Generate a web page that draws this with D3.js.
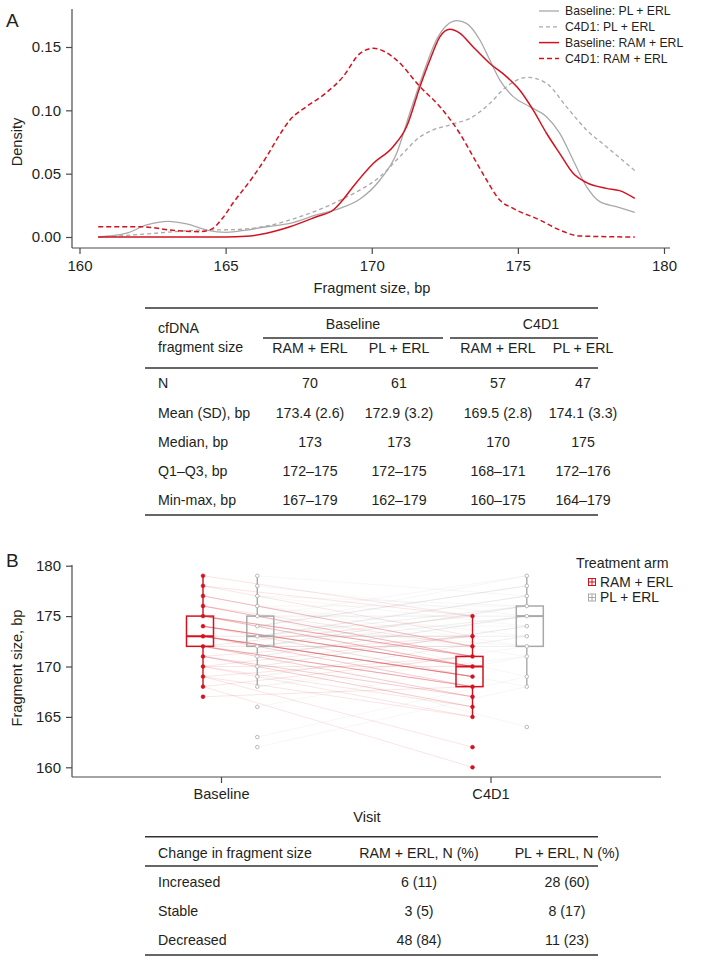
<!DOCTYPE html>
<html><head><meta charset="utf-8">
<script src="https://cdn.jsdelivr.net/npm/d3@7"></script>
<style>body{margin:0;background:#fff}text{font-family:"Liberation Sans",Arial,Helvetica,sans-serif;fill:#231f20}</style>
</head><body><svg id="c" width="703" height="961"></svg>
<script>
// ---------- Panel A data: density curves [fragment size, density]
const baselinePL = [[160.64,0],[161.61,0.003],[162.3,0.0095],[163.04,0.0124],[163.67,0.0103],[164.35,0.0055],[165.03,0.0037],[165.72,0.0055],[166.4,0.0081],[167.2,0.0108],[168.11,0.0174],[168.91,0.0226],[169.6,0.030],[170.28,0.045],[170.85,0.066],[171.3,0.0977],[171.76,0.129],[172.21,0.1555],[172.56,0.167],[172.92,0.1708],[173.24,0.1687],[173.7,0.1555],[174.04,0.1397],[174.38,0.124],[174.84,0.1108],[175.41,0.1029],[175.98,0.095],[176.43,0.082],[176.89,0.0608],[177.35,0.0397],[177.8,0.0279],[178.37,0.024],[179,0.0195]];
const c4d1PL = [[160.64,0],[161.84,0.0016],[162.98,0.0037],[164.12,0.0055],[165.26,0.0058],[166.4,0.0087],[167.54,0.016],[168.45,0.024],[169.0,0.030],[169.59,0.037],[170.28,0.0476],[170.96,0.0634],[171.65,0.079],[172.1,0.0845],[172.78,0.0892],[173.47,0.095],[174.04,0.1055],[174.61,0.1187],[175.35,0.126],[175.98,0.1213],[176.66,0.1029],[177.35,0.0845],[178.03,0.0713],[179,0.0524]];
const baselineRAM = [[160.64,0],[165.0,0],[165.7,0.0005],[166.4,0.003],[167.2,0.0081],[168.11,0.016],[168.68,0.0213],[169.0,0.029],[169.36,0.0397],[170.05,0.058],[170.73,0.0713],[171.19,0.087],[171.65,0.1187],[171.99,0.1397],[172.33,0.158],[172.67,0.164],[173.01,0.161],[173.47,0.150],[174.04,0.137],[174.61,0.1266],[175.06,0.116],[175.52,0.1003],[175.98,0.0819],[176.43,0.066],[176.89,0.0503],[177.35,0.0429],[178.03,0.0384],[178.48,0.0366],[179,0.0305]];
const c4d1RAM = [[160.64,0.0081],[162.07,0.0081],[163.32,0.005],[164.12,0.0042],[164.5,0.006],[164.9,0.015],[165.26,0.027],[165.94,0.0476],[166.4,0.0634],[166.74,0.0766],[167.2,0.0924],[167.77,0.103],[168.34,0.112],[169.02,0.1266],[169.6,0.145],[170.05,0.149],[170.85,0.1397],[171.65,0.1187],[172.33,0.1029],[173.01,0.0819],[173.47,0.0634],[173.93,0.045],[174.38,0.0292],[174.84,0.0226],[175.75,0.0134],[176.43,0.0055],[177.12,0.0008],[179,0]];
const densityLegend = ["Baseline: PL + ERL","C4D1: PL + ERL","Baseline: RAM + ERL","C4D1: RAM + ERL"];
const xTicksA = [160,165,170,175,180];
const yTicksA = [0,0.05,0.10,0.15];

// ---------- Table A
const tableAGroups = ["Baseline","C4D1"];
const tableACols = ["RAM + ERL","PL + ERL","RAM + ERL","PL + ERL"];
const tableARowLabels = ["N","Mean (SD), bp","Median, bp","Q1\u2013Q3, bp","Min-max, bp"];
const tableAValues = [
  ["70","61","57","47"],
  ["173.4 (2.6)","172.9 (3.2)","169.5 (2.8)","174.1 (3.3)"],
  ["173","173","170","175"],
  ["172\u2013175","172\u2013175","168\u2013171","172\u2013176"],
  ["167\u2013179","162\u2013179","160\u2013175","164\u2013179"]
];

// ---------- Panel B data
const visits = ["Baseline","C4D1"];
const arms = ["RAM + ERL","PL + ERL"];
// box stats [whiskerLow, Q1, median, Q3, whiskerHigh]
const boxRAM = {Baseline:[168,172,173,175,179], C4D1:[165,168,170,171,175]};
const boxPL  = {Baseline:[168,172,173,175,179], C4D1:[168,172,175,176,179]};
// distinct observed values shown as points
const pointsRAM = {Baseline:[167,168,169,170,171,172,173,174,175,176,177,178,179], C4D1:[160,162,165,166,167,168,169,170,171,172,173,175]};
const pointsPL  = {Baseline:[162,163,166,168,169,170,171,172,173,174,175,176,177,178,179], C4D1:[164,168,169,171,172,173,174,175,176,177,178,179]};
// paired patients [baseline, C4D1]
const pairsRAM = [[167,168],[168,171],[169,171],[170,173],[171,173],[172,175],[170,170],[172,172],[173,173],
 [168,160],[169,162],[169,165],[170,165],[170,166],[171,166],[171,166],[171,167],[171,167],[172,167],[172,167],[172,168],[172,168],[172,168],[172,168],
 [173,168],[173,168],[173,169],[173,169],[173,169],[173,169],[173,169],[173,169],[173,169],[174,169],[174,170],[174,170],[174,170],[174,170],[174,170],[174,170],
 [175,170],[175,170],[175,170],[175,171],[175,171],[175,171],[175,171],[176,171],[176,171],[176,171],[176,172],[177,172],[177,172],[177,172],[178,173],[178,175],[179,175]];
const pairsPL = [[172,172],[172,172],[173,173],[173,173],[174,174],[175,175],[175,175],[176,176],
 [179,177],[178,175],[177,176],[177,174],[176,173],[176,172],[175,171],[175,169],[174,172],[173,168],[171,164],
 [162,168],[163,169],[166,171],[168,171],[168,172],[169,173],[169,173],[170,174],[170,174],[170,174],[171,175],[171,175],[171,175],[172,175],[172,175],[172,176],[172,176],[172,176],[173,176],[173,176],[173,177],[173,177],[173,177],[174,178],[174,178],[174,178],[174,179],[175,179]];
const yTicksB = [160,165,170,175,180];

// ---------- Table B
const tableBHeader = ["Change in fragment size","RAM + ERL, N (%)","PL + ERL, N (%)"];
const tableBRows = [["Increased","6 (11)","28 (60)"],["Stable","3 (5)","8 (17)"],["Decreased","48 (84)","11 (23)"]];

const RED = "#d4121f", GRAY = "#a9a9a9", AX = "#4a4a4a";
const svg = d3.select("#c");

// ================= Panel A =================
const xA = d3.scaleLinear().domain([160,180]).range([79.5,664]);
const yA = d3.scaleLinear().domain([0,0.15]).range([237,47]);
const gA = svg.append("g");
gA.append("text").attr("x",6).attr("y",27).attr("font-size",19).text("A");
gA.append("line").attr("x1",72).attr("x2",72).attr("y1",9).attr("y2",248).attr("stroke",AX).attr("stroke-width",1.2);
gA.append("line").attr("x1",72).attr("x2",670).attr("y1",248).attr("y2",248).attr("stroke",AX).attr("stroke-width",1.2);
const axXA = d3.axisBottom(xA).tickValues(xTicksA).tickSize(6).tickPadding(6).tickFormat(d3.format("d"));
const gxA = gA.append("g").attr("transform","translate(0,248)").call(axXA);
gxA.select(".domain").remove();
gxA.selectAll("line").attr("stroke",AX).attr("stroke-width",1.2);
gxA.selectAll("text").attr("font-size",15).attr("font-family","Liberation Sans, Arial").attr("fill","#231f20");
const axYA = d3.axisLeft(yA).tickValues(yTicksA).tickSize(6).tickPadding(5).tickFormat(d3.format(".2f"));
const gyA = gA.append("g").attr("transform","translate(72,0)").call(axYA);
gyA.select(".domain").remove();
gyA.selectAll("line").attr("stroke",AX).attr("stroke-width",1.2);
gyA.selectAll("text").attr("font-size",15).attr("font-family","Liberation Sans, Arial").attr("fill","#231f20");
gA.append("text").attr("x",372).attr("y",293).attr("text-anchor","middle").attr("font-size",14.6).text("Fragment size, bp");
gA.append("text").attr("transform","translate(22,142) rotate(-90)").attr("text-anchor","middle").attr("font-size",14.6).text("Density");

const lineA = d3.line().x(d=>xA(d[0])).y(d=>yA(d[1])).curve(d3.curveMonotoneX);
const series = [
  {d:baselinePL,c:GRAY,dash:null,w:1.3},
  {d:c4d1PL,c:GRAY,dash:"4,3",w:1.3},
  {d:baselineRAM,c:RED,dash:null,w:1.5},
  {d:c4d1RAM,c:RED,dash:"5,3",w:1.5}
];
series.forEach(s=>{
  gA.append("path").attr("d",lineA(s.d)).attr("fill","none").attr("stroke",s.c).attr("stroke-width",s.w).attr("stroke-dasharray",s.dash);
});
series.forEach((s,i)=>{
  const y = 11 + i*15.8;
  gA.append("line").attr("x1",539).attr("x2",559).attr("y1",y).attr("y2",y).attr("stroke",s.c).attr("stroke-width",s.w).attr("stroke-dasharray",s.dash);
  gA.append("text").attr("x",565).attr("y",y).attr("dy","0.36em").attr("font-size",12.2).text(densityLegend[i]);
});

// ================= Table A =================
const gT = svg.append("g");
const tl = (x1,x2,y,w)=>gT.append("line").attr("x1",x1).attr("x2",x2).attr("y1",y).attr("y2",y).attr("stroke","#333").attr("stroke-width",w||1.3);
const tt = (x,y,s,anchor)=>gT.append("text").attr("x",x).attr("y",y).attr("dy","0.36em").attr("font-size",14.2).attr("text-anchor",anchor||"middle").text(s);
const colX = [310,399,498,583];
tl(145,598,308,1.5); tl(263,443,338); tl(450,598,338); tl(145,598,368); tl(145,598,515,1.5);
tt(158,328,"cfDNA","start"); tt(158,347,"fragment size","start");
tt(353,324,tableAGroups[0]); tt(541,324,tableAGroups[1]);
tableACols.forEach((c,i)=>tt(colX[i],348,c));
const rowY = [383,413,442,471,500];
tableARowLabels.forEach((r,i)=>{
  tt(158,rowY[i],r,"start");
  tableAValues[i].forEach((v,j)=>tt(colX[j],rowY[i],v));
});

// ================= Panel B =================
const yB = d3.scaleLinear().domain([160,180]).range([767.3,565.7]);
const xB = d3.scalePoint().domain(visits).range([221,490.5]);
const armOff = d3.scaleOrdinal().domain(arms).range([-21,39.3]);
const ptOff = d3.scaleOrdinal().domain(arms).range([3,-3]);
const gB = svg.append("g");
gB.append("text").attr("x",6).attr("y",567).attr("font-size",19).text("B");
gB.append("line").attr("x1",72).attr("x2",72).attr("y1",565).attr("y2",777).attr("stroke",AX).attr("stroke-width",1.2);
gB.append("line").attr("x1",72).attr("x2",661).attr("y1",777).attr("y2",777).attr("stroke",AX).attr("stroke-width",1.2);
const gyB = gB.append("g").attr("transform","translate(72,0)").call(d3.axisLeft(yB).tickValues(yTicksB).tickSize(6).tickPadding(5));
gyB.select(".domain").remove();
gyB.selectAll("line").attr("stroke",AX).attr("stroke-width",1.2);
gyB.selectAll("text").attr("font-size",15).attr("font-family","Liberation Sans, Arial").attr("fill","#231f20");
const gxB = gB.append("g").attr("transform","translate(0,777)").call(d3.axisBottom(xB).tickSize(6).tickPadding(6));
gxB.select(".domain").remove();
gxB.selectAll("line").attr("stroke",AX).attr("stroke-width",1.2);
gxB.selectAll("text").attr("font-size",14.6).attr("font-family","Liberation Sans, Arial").attr("fill","#231f20");
gB.append("text").attr("x",367).attr("y",822).attr("text-anchor","middle").attr("font-size",14.6).text("Visit");
gB.append("text").attr("transform","translate(22,668) rotate(-90)").attr("text-anchor","middle").attr("font-size",14.6).text("Fragment size, bp");

const armDef = [
  {arm:arms[0],box:boxRAM,pts:pointsRAM,pairs:pairsRAM,c:RED,lineOp:0.11},
  {arm:arms[1],box:boxPL,pts:pointsPL,pairs:pairsPL,c:GRAY,lineOp:0.09}
];
// paired lines
armDef.forEach(a=>{
  const px = v=>xB(v)+armOff(a.arm)+ptOff(a.arm);
  gB.append("g").selectAll("line").data(a.pairs).join("line")
    .attr("x1",px("Baseline")).attr("x2",px("C4D1"))
    .attr("y1",d=>yB(d[0])).attr("y2",d=>yB(d[1]))
    .attr("stroke",a.c).attr("stroke-opacity",a.lineOp).attr("stroke-width",1);
});
// boxes
const bw = 27;
armDef.forEach(a=>{
  visits.forEach(v=>{
    const b = a.box[v];
    const cx = xB(v)+armOff(a.arm);
    const wx = cx+ptOff(a.arm);
    const g = gB.append("g");
    g.append("line").attr("x1",wx).attr("x2",wx).attr("y1",yB(b[4])).attr("y2",yB(b[3])).attr("stroke",a.c).attr("stroke-width",1.4);
    g.append("line").attr("x1",wx).attr("x2",wx).attr("y1",yB(b[1])).attr("y2",yB(b[0])).attr("stroke",a.c).attr("stroke-width",1.4);
    g.append("rect").attr("x",cx-bw/2).attr("y",yB(b[3])).attr("width",bw).attr("height",yB(b[1])-yB(b[3]))
      .attr("fill","none").attr("stroke",a.c).attr("stroke-width",1.5);
    g.append("line").attr("x1",cx-bw/2).attr("x2",cx+bw/2).attr("y1",yB(b[2])).attr("y2",yB(b[2])).attr("stroke",a.c).attr("stroke-width",2);
    g.selectAll("circle").data(a.pts[v]).join("circle")
      .attr("cx",wx).attr("cy",d=>yB(d))
      .attr("r",a.c===RED?1.9:1.8)
      .attr("fill",a.c===RED?RED:"#fff").attr("stroke",a.c).attr("stroke-width",a.c===RED?0.6:0.8);
  });
});
// legend B
gB.append("text").attr("x",576).attr("y",563).attr("dy","0.36em").attr("font-size",14.2).text("Treatment arm");
armDef.forEach((a,i)=>{
  const y = 582 + i*15.5;
  const lg = gB.append("g");
  lg.append("rect").attr("x",588.5).attr("y",y-3.5).attr("width",7).attr("height",7).attr("fill","none").attr("stroke",a.c).attr("stroke-width",1);
  lg.append("line").attr("x1",588.5).attr("x2",595.5).attr("y1",y).attr("y2",y).attr("stroke",a.c).attr("stroke-width",1);
  lg.append("line").attr("x1",592).attr("x2",592).attr("y1",y-3.5).attr("y2",y+3.5).attr("stroke",a.c).attr("stroke-width",1);
  lg.append("text").attr("x",600).attr("y",y).attr("dy","0.36em").attr("font-size",13.8).text(a.arm);
});

// ================= Table B =================
const colBX = [158,419,567];
tl(145,598,836.7,1.5); tl(145,598,866); tl(145,598,955,1.5);
tt(colBX[0],853,tableBHeader[0],"start"); tt(colBX[1],853,tableBHeader[1]); tt(colBX[2],853,tableBHeader[2]);
const rowBY = [882,911,940];
tableBRows.forEach((r,i)=>{
  tt(colBX[0],rowBY[i],r[0],"start"); tt(colBX[1],rowBY[i],r[1]); tt(colBX[2],rowBY[i],r[2]);
});
</script></body></html>
